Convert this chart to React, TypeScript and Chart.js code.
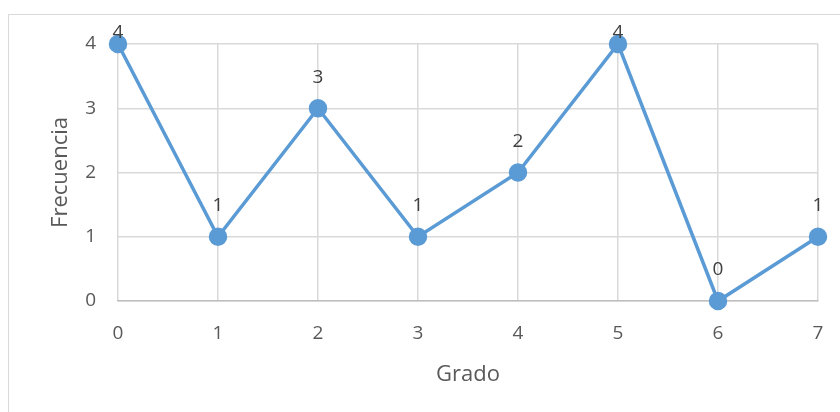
import React, { useEffect, useRef } from "react";
import { Chart, registerables } from "chart.js";

Chart.register(...registerables);

const grados = [0, 1, 2, 3, 4, 5, 6, 7];
const frecuencias = [4, 1, 3, 1, 2, 4, 0, 1];
const yTicks = [0, 1, 2, 3, 4];
const xTitle = "Grado";
const yTitle = "Frecuencia";

const FONT = "'Open Sans', 'Liberation Sans', sans-serif";
const BLUE = "#5b9bd5";

const frame = {
  id: "frame",
  beforeDraw(chart: any) {
    const ctx = chart.ctx;
    ctx.save();
    ctx.fillStyle = "#ffffff";
    ctx.fillRect(0, 0, chart.width, chart.height);
    ctx.strokeStyle = "#d9d9d9";
    ctx.lineWidth = 1;
    ctx.beginPath();
    ctx.moveTo(8.5, chart.height + 2);
    ctx.lineTo(8.5, 14.5);
    ctx.lineTo(chart.width + 2, 14.5);
    ctx.stroke();
    ctx.restore();
  },
};

const labels = {
  id: "labels",
  afterDatasetsDraw(chart: any) {
    const ctx = chart.ctx;
    const meta = chart.getDatasetMeta(0);
    ctx.save();
    ctx.font = `19px ${FONT}`;
    ctx.fillStyle = "#404040";
    ctx.textAlign = "center";
    ctx.textBaseline = "middle";
    meta.data.forEach((pt: any, i: number) => {
      const y = Math.max(pt.y - 31, 33);
      ctx.fillText(String(frecuencias[i]), pt.x, y);
    });
    ctx.restore();
  },
};

export default function App() {
  const ref = useRef<HTMLCanvasElement>(null);
  useEffect(() => {
    const chart = new Chart(ref.current!, {
      type: "line",
      data: {
        datasets: [
          {
            data: grados.map((g, i) => ({ x: g, y: frecuencias[i] })),
            borderColor: BLUE,
            backgroundColor: BLUE,
            borderWidth: 3.5,
            pointRadius: 7.5,
            pointHoverRadius: 7.5,
            pointBackgroundColor: BLUE,
            pointBorderColor: BLUE,
            tension: 0,
            clip: false,
          },
        ],
      },
      options: {
        animation: false,
        responsive: false,
        maintainAspectRatio: false,
        layout: { padding: { left: 0, top: 44, right: 22, bottom: 0 } },
        plugins: { legend: { display: false }, tooltip: { enabled: false } },
        scales: {
          x: {
            type: "linear",
            min: 0,
            max: 7,
            afterFit(s: any) {
              s.height = 111;
              s.paddingRight = 0;
              s.paddingLeft = 0;
            },
            ticks: {
              stepSize: 1,
              padding: 21,
              color: "#595959",
              font: { family: FONT, size: 19 },
            },
            grid: { color: "#d9d9d9", lineWidth: 1.5, drawTicks: false },
            border: { color: "#bfbfbf", width: 1.5 },
            title: {
              display: true,
              text: xTitle,
              color: "#595959",
              font: { family: FONT, size: 22 },
              padding: { top: 0, bottom: 24 },
            },
          },
          y: {
            min: 0,
            max: 4,
            afterFit(s: any) {
              s.width = 118;
            },
            afterBuildTicks(s: any) {
              s.ticks = yTicks.map((v) => ({ value: v }));
            },
            ticks: {
              padding: 22,
              color: "#595959",
              font: { family: FONT, size: 19 },
            },
            grid: { color: "#d9d9d9", lineWidth: 1.5, drawTicks: false },
            border: { display: false },
            title: {
              display: true,
              text: yTitle,
              color: "#595959",
              font: { family: FONT, size: 22 },
              padding: { top: 48, bottom: 0 },
            },
          },
        },
      },
      plugins: [frame, labels],
    });
    return () => chart.destroy();
  }, []);
  return (
    <div style={{ position: "fixed", left: 0, top: 0, width: 840, height: 412 }}>
      <canvas ref={ref} width={840} height={412} style={{ display: "block" }} />
    </div>
  );
}
